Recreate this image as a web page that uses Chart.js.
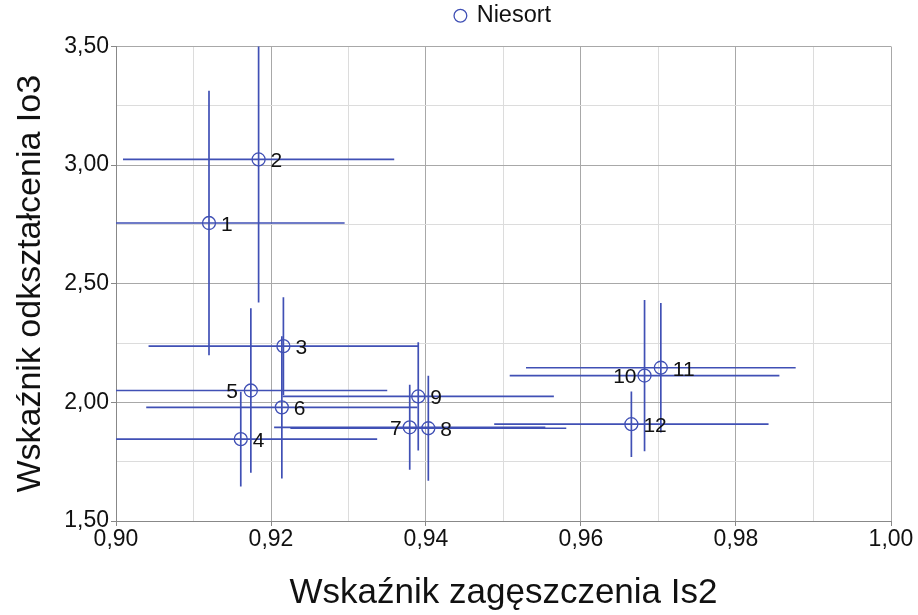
<!DOCTYPE html>
<html>
<head>
<meta charset="utf-8">
<script src="https://cdn.jsdelivr.net/npm/chart.js@4.4.1/dist/chart.umd.min.js"></script>
<style>
  html, body { margin: 0; padding: 0; background: #fff; }
  #wrap { width: 918px; height: 615px; }
</style>
</head>
<body>
<div id="wrap"><canvas id="chart" width="918" height="615"></canvas></div>
<script>
// dane punktow (Is2, Io3) i polowy rozrzutu
const labels = ['1', '2', '3', '4', '5', '6', '7', '8', '9', '10', '11', '12'];
const is2 = [0.9120, 0.9184, 0.9216, 0.9161, 0.9174, 0.9214, 0.9379, 0.9403, 0.9390, 0.9682, 0.9703, 0.9665];
const io3 = [2.756, 3.024, 2.237, 1.845, 2.050, 1.979, 1.895, 1.891, 2.025, 2.113, 2.146, 1.908];
const is2Err = [0.0175, 0.0175, 0.0174, 0.0176, 0.0176, 0.0175, 0.0175, 0.0178, 0.0175, 0.0174, 0.0174, 0.0177];
const io3Err = [0.557, 0.603, 0.206, 0.200, 0.347, 0.300, 0.179, 0.221, 0.228, 0.319, 0.273, 0.138];
// etykiety po lewej stronie punktu
const leftLabels = ['5', '7', '10'];

const blue = '#4050b5';
const font = '"Liberation Sans", Arial, sans-serif';
const fmt = v => v.toFixed(2).replace('.', ',');

// troche wiecej miejsca pod legenda
const legendGap = {
  id: 'legendGap',
  beforeInit(chart) {
    const fit = chart.legend.fit;
    chart.legend.fit = function () {
      fit.call(this);
      this.height += 9;
    };
  }
};

// wasy bledow + numery punktow
const errorBars = {
  id: 'errorBars',
  beforeDatasetsDraw(chart) {
    const { ctx, chartArea: a, scales: { x, y } } = chart;
    ctx.save();
    ctx.beginPath();
    ctx.rect(a.left, a.top, a.right - a.left, a.bottom - a.top);
    ctx.clip();
    ctx.strokeStyle = blue;
    ctx.lineWidth = 1.7;
    is2.forEach((v, i) => {
      const px = x.getPixelForValue(v);
      const py = y.getPixelForValue(io3[i]);
      ctx.beginPath();
      ctx.moveTo(x.getPixelForValue(v - is2Err[i]), py);
      ctx.lineTo(x.getPixelForValue(v + is2Err[i]), py);
      ctx.moveTo(px, y.getPixelForValue(io3[i] - io3Err[i]));
      ctx.lineTo(px, y.getPixelForValue(io3[i] + io3Err[i]));
      ctx.stroke();
    });
    ctx.restore();
  },
  afterDatasetsDraw(chart) {
    const { ctx, scales: { x, y } } = chart;
    ctx.save();
    ctx.font = '21px ' + font;
    ctx.fillStyle = '#111';
    ctx.textBaseline = 'middle';
    labels.forEach((t, i) => {
      const px = x.getPixelForValue(is2[i]);
      const py = y.getPixelForValue(io3[i]) + 2;
      if (leftLabels.includes(t)) {
        ctx.textAlign = 'right';
        ctx.fillText(t, px - (t === '5' ? 13 : 8), py);
      } else {
        ctx.textAlign = 'left';
        ctx.fillText(t, px + 12, py);
      }
    });
    ctx.restore();
  }
};

new Chart(document.getElementById('chart'), {
  type: 'scatter',
  data: {
    datasets: [{
      label: 'Niesort',
      data: is2.map((v, i) => ({ x: v, y: io3[i] })),
      pointStyle: 'circle',
      pointRadius: 6.5,
      pointHoverRadius: 6.5,
      pointBorderWidth: 1.3,
      borderColor: blue,
      backgroundColor: 'rgba(0,0,0,0)'
    }]
  },
  options: {
    responsive: false,
    animation: false,
    layout: { padding: { left: 0, right: 27, top: 0, bottom: 0 } },
    plugins: {
      tooltip: { enabled: false },
      legend: {
        display: true,
        position: 'top',
        fullSize: false,
        labels: {
          usePointStyle: true,
          boxWidth: 9,
          boxHeight: 9,
          padding: 4,
          color: '#111',
          font: { family: font, size: 23.5 }
        }
      }
    },
    scales: {
      x: {
        type: 'linear',
        min: 0.90,
        max: 1.00,
        afterFit: s => { s.height = 94; },
        border: { color: '#888', width: 1 },
        grid: {
          color: c => Math.round(c.tick.value * 100) % 2 === 0 ? '#a8a8a8' : '#dcdcdc',
          tickColor: c => Math.round(c.tick.value * 100) % 2 === 0 ? '#888' : 'rgba(0,0,0,0)',
          tickLength: 5
        },
        ticks: {
          stepSize: 0.01,
          maxRotation: 0,
          autoSkip: false,
          padding: 0,
          color: '#111',
          font: { family: font, size: 23 },
          callback: v => Math.round(v * 100) % 2 === 0 ? fmt(v) : ''
        },
        title: {
          display: true,
          text: 'Wskaźnik zagęszczenia Is2',
          color: '#111',
          font: { family: font, size: 35 },
          padding: { top: 14, bottom: 1 }
        }
      },
      y: {
        type: 'linear',
        min: 1.50,
        max: 3.50,
        afterFit: s => { s.width = 116; },
        border: { color: '#888', width: 1 },
        grid: {
          color: c => Math.round(c.tick.value * 100) % 50 === 0 ? '#a8a8a8' : '#dcdcdc',
          tickColor: c => Math.round(c.tick.value * 100) % 50 === 0 ? '#888' : 'rgba(0,0,0,0)',
          tickLength: 5
        },
        ticks: {
          stepSize: 0.25,
          autoSkip: false,
          padding: 2,
          color: '#111',
          font: { family: font, size: 23 },
          callback: v => Math.round(v * 100) % 50 === 0 ? fmt(v) : ''
        },
        title: {
          display: true,
          text: 'Wskaźnik odkształcenia Io3',
          color: '#111',
          font: { family: font, size: 34 },
          padding: { top: 10, bottom: 4 }
        }
      }
    }
  },
  plugins: [legendGap, errorBars]
});
</script>
</body>
</html>
